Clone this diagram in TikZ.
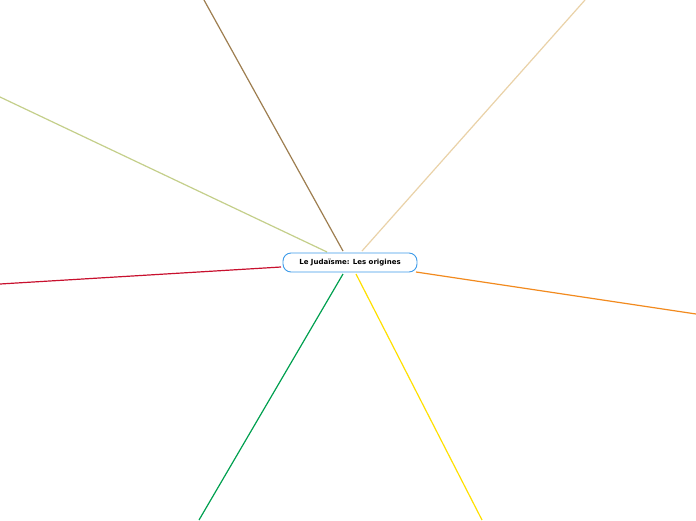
\documentclass[tikz,border=0pt]{standalone}
\usepackage{fontspec}
\setmainfont{DejaVu Sans}
\definecolor{cbrown}{HTML}{9E7E50}
\definecolor{colive}{HTML}{C4CF8A}
\definecolor{cbeige}{HTML}{EAD2A8}
\definecolor{cred}{HTML}{C8102E}
\definecolor{corange}{HTML}{F28A1E}
\definecolor{cgreen}{HTML}{00A050}
\definecolor{cyellow}{HTML}{FFE000}
\definecolor{cblue}{HTML}{3D9BE9}
\begin{document}
\begin{tikzpicture}[x=1pt,y=-1pt,
  branch/.style={line width=1.2pt},
  topic/.style={draw=cblue,line width=0.9pt,rounded corners=8pt,fill=white,
    minimum width=134pt,minimum height=19pt,inner sep=0pt,font=\bfseries\fontsize{7}{8}\selectfont}]
\useasboundingbox (0,0) rectangle (696,520);
\fill[white] (0,0) rectangle (696,520);
\coordinate (e1) at (204,0);
\coordinate (e2) at (0,97);
\coordinate (e3) at (585,0);
\coordinate (e4) at (0,284);
\coordinate (e5) at (696,314);
\coordinate (e6) at (199,520);
\coordinate (e7) at (482,520);
\coordinate (s1) at (343,251);
\coordinate (s2) at (327,252);
\coordinate (s3) at (362,251);
\coordinate (s4) at (281,267);
\coordinate (s5) at (416,272);
\coordinate (s6) at (343,274);
\coordinate (s7) at (356,274);
\draw[branch,cbrown] (s1) -- (e1);
\draw[branch,colive] (s2) -- (e2);
\draw[branch,cbeige] (s3) -- (e3);
\draw[branch,cred] (s4) -- (e4);
\draw[branch,corange] (s5) -- (e5);
\draw[branch,cgreen] (s6) -- (e6);
\draw[branch,cyellow] (s7) -- (e7);
\node[topic] (c) at (350,262.5) {Le Judaïsme: Les origines};
\end{tikzpicture}
\end{document}
